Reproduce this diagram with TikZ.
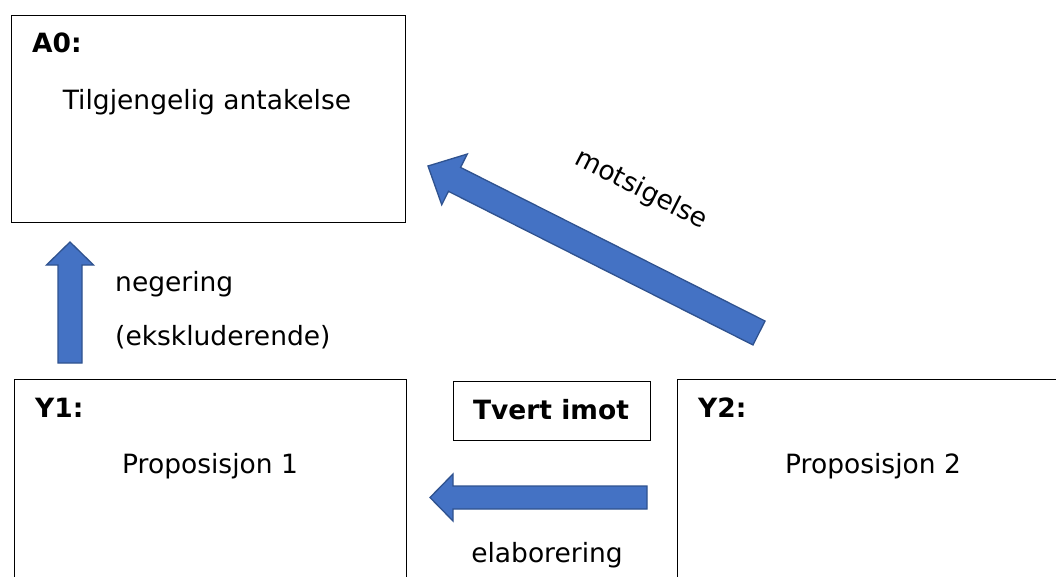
\documentclass[tikz,border=0pt]{standalone}
\usepackage{fontspec}
\setmainfont{DejaVu Sans}
\usetikzlibrary{calc}
\definecolor{arrowfill}{HTML}{4472C4}
\definecolor{arrowedge}{HTML}{2F528F}
\newcommand\txtsize{\fontsize{26.5}{31}\selectfont}
\tikzset{
  box/.style={draw=black, line width=1.1pt, fill=white, inner sep=0pt, anchor=north west},
  lbl/.style={inner sep=0pt, anchor=base west, font=\txtsize},
  lblc/.style={inner sep=0pt, anchor=base, font=\txtsize},
  head/.style={lbl, font=\txtsize\bfseries},
  blockarr/.style={fill=arrowfill, draw=arrowedge, line width=1.3pt, line join=miter},
}
% block arrow: tail, tip, half shaft width, half head width, head length
\newcommand\blockarrow[5]{%
  \coordinate (ba-b) at ($(#2)!#5!(#1)$);
  \draw[blockarr] ($(#1)!#3!90:(#2)$) -- ($(ba-b)!#3!-90:(#1)$)
    -- ($(ba-b)!#4!-90:(#1)$) -- (#2) -- ($(ba-b)!#4!90:(#1)$)
    -- ($(ba-b)!#3!90:(#1)$) -- ($(#1)!#3!-90:(#2)$) -- cycle;}
\begin{document}
\begin{tikzpicture}[x=1pt, y=-1pt]
\clip (0,0) rectangle (1056,577);
\fill[white] (0,0) rectangle (1056,577);

% boxes
\node[box, minimum width=394pt, minimum height=207pt] (A0) at (11,15) {};
\node[box, minimum width=392pt, minimum height=215pt] (Y1) at (14,379) {};
\node[box, minimum width=400pt, minimum height=215pt] (Y2) at (677,379) {};
\node[box, minimum width=197pt, minimum height=59pt] (TI) at (453,381) {};

% box texts
\node[head] (A0h) at (32,53) {A0:};
\node[lblc] (A0t) at (207,110) {Tilgjengelig antakelse};
\node[head] (Y1h) at (35,417) {Y1:};
\node[lbl] (Y1t) at (122,473) {Proposisjon 1};
\node[head] (Y2h) at (698,417) {Y2:};
\node[lbl] (Y2t) at (785,473) {Proposisjon 2};
\node[lblc, font=\txtsize\bfseries] (TIt) at (551,419) {Tvert imot};

% connectors
\coordinate (negTail) at (70,363);
\coordinate (negTip) at (70,242);
\blockarrow{negTail}{negTip}{12pt}{23.5pt}{23pt}
\coordinate (motTail) at (759,333);
\coordinate (motTip) at (428,166);
\blockarrow{motTail}{motTip}{13.4pt}{28.4pt}{29.7pt}
\coordinate (elaTail) at (647,497.5);
\coordinate (elaTip) at (430,497.5);
\blockarrow{elaTail}{elaTip}{11.5pt}{23.5pt}{23pt}

% connector labels
\node[lbl] (neg1) at (115,291) {negering};
\node[lbl] (neg2) at (115,345) {(ekskluderende)};
\node[lblc] (ela) at (547,562) {elaborering};
\node[inner sep=0pt, rotate=-27, font=\txtsize] (mot) at (641,190) {motsigelse};
\end{tikzpicture}
\end{document}
